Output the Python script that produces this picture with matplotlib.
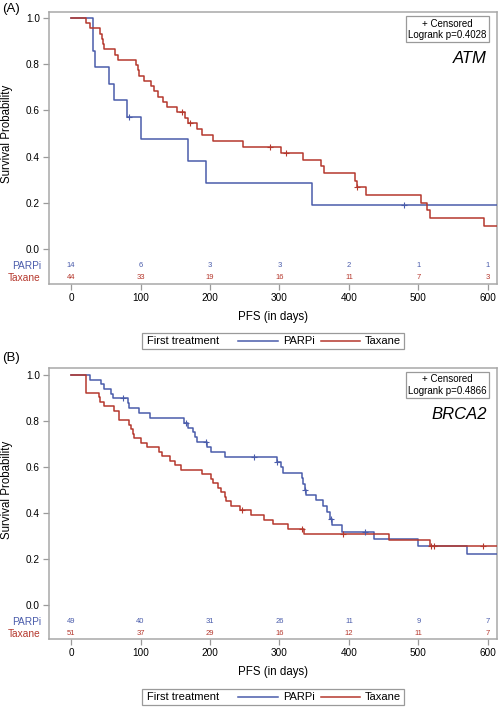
import numpy as np
import matplotlib
matplotlib.use("Agg")
import matplotlib.pyplot as plt
from matplotlib.patches import Rectangle
from matplotlib.lines import Line2D

plt.rcParams['font.family'] = ['Liberation Sans', 'DejaVu Sans']

# ---- data ----
risk_days = [0, 100, 200, 300, 400, 500, 600]

# (A) ATM
atm_parp_t = [0, 31, 32, 35, 54, 62, 81, 101, 168, 194, 347]
atm_parp_s = [1.0, 0.929, 0.857, 0.786, 0.714, 0.643, 0.571, 0.476, 0.381, 0.286, 0.190]
atm_parp_cens = [84, 479]
atm_tax_t = [0, 21, 28, 42, 44, 46, 48, 63, 67, 94, 96, 98, 105, 115, 120, 125, 133, 138,
             153, 164, 168, 181, 188, 204, 247, 302, 334, 360, 364, 409, 411, 424, 503, 512, 516, 595]
atm_tax_s = [1.0, 0.977, 0.955, 0.932, 0.909, 0.886, 0.864, 0.841, 0.818, 0.795, 0.773, 0.750,
             0.727, 0.705, 0.682, 0.659, 0.636, 0.614, 0.591, 0.568, 0.546, 0.518, 0.492, 0.468,
             0.443, 0.414, 0.385, 0.358, 0.328, 0.296, 0.267, 0.232, 0.200, 0.168, 0.135, 0.100]
atm_tax_cens = [159, 171, 286, 309, 412]
atm_risk_parp = [14, 6, 3, 3, 2, 1, 1]
atm_risk_tax = [44, 33, 19, 16, 11, 7, 3]

# (B) BRCA2
brca_parp_t = [0, 27, 43, 48, 57, 60, 82, 83, 98, 113, 162, 168, 175, 178, 181, 195, 201, 222,
               296, 302, 305, 332, 334, 336, 338, 353, 363, 369, 373, 376, 390, 436, 500, 570]
brca_parp_s = [1.0, 0.980, 0.959, 0.939, 0.918, 0.898, 0.877, 0.856, 0.835, 0.814, 0.793, 0.771,
               0.750, 0.729, 0.708, 0.686, 0.664, 0.642, 0.620, 0.599, 0.574, 0.553, 0.527, 0.502,
               0.477, 0.455, 0.429, 0.403, 0.375, 0.346, 0.319, 0.287, 0.255, 0.224]
brca_parp_cens = [75, 166, 194, 263, 296, 336, 374, 423]
brca_tax_t = [0, 21, 40, 42, 48, 62, 69, 84, 86, 89, 91, 100, 110, 126, 131, 143, 150, 158, 188,
              201, 205, 212, 216, 221, 223, 230, 243, 259, 277, 290, 312, 335, 458, 516]
brca_tax_s = [1.0, 0.922, 0.902, 0.882, 0.863, 0.843, 0.804, 0.784, 0.765, 0.745, 0.725, 0.706,
              0.686, 0.667, 0.647, 0.627, 0.608, 0.588, 0.569, 0.549, 0.529, 0.510, 0.490, 0.471,
              0.451, 0.431, 0.412, 0.392, 0.372, 0.351, 0.331, 0.308, 0.281, 0.255]
brca_tax_cens = [246, 333, 392, 518, 522, 593]
brca_risk_parp = [49, 40, 31, 26, 11, 9, 7]
brca_risk_tax = [51, 37, 29, 16, 12, 11, 7]

BLUE = '#4a5cab'
RED = '#b5382d'
GREY = '#9a9a9a'
X_END = 620

fig = plt.figure(figsize=(5.0, 7.07), dpi=100)


def km(ax, t, s, cens, color):
    t = np.asarray(t, float)
    s = np.asarray(s, float)
    tt = np.append(t, X_END)
    ss = np.append(s, s[-1])
    ax.step(tt, ss, where='post', color=color, lw=1.1, zorder=3)
    idx = np.searchsorted(t, cens, side='right') - 1
    ax.plot(cens, s[idx], ls='none', marker='+', ms=5, mew=0.8, color=color, zorder=4)


def panel(rect, ylim, gene, pval, parp, tax, rparp, rtax, ylab_y):
    ax = fig.add_axes(rect)
    km(ax, *parp, BLUE)
    km(ax, *tax, RED)
    ax.set_xlim(-31.7, 613)
    ax.set_ylim(*ylim)
    ax.set_xticks(risk_days)
    ax.set_yticks([0.0, 0.2, 0.4, 0.6, 0.8, 1.0])
    ax.set_yticklabels(['%.1f' % v for v in [0.0, 0.2, 0.4, 0.6, 0.8, 1.0]])
    ax.tick_params(length=4, width=0.9, color=GREY, labelsize=7.2, pad=2.5)
    for sp in ax.spines.values():
        sp.set_color('#a8a8a8')
        sp.set_linewidth(1.1)
    ax.set_xlabel('PFS (in days)', fontsize=8.3, labelpad=6)
    ax.set_ylabel('Survival Probability', fontsize=8.3)
    ax.yaxis.set_label_coords(-0.08, ylab_y)
    for d, a, b in zip(risk_days, rparp, rtax):
        ax.text(d, -0.072, str(a), color=BLUE, fontsize=5.5, ha='center', va='center')
        ax.text(d, -0.125, str(b), color=RED, fontsize=5.5, ha='center', va='center')
    ax.text(-0.018, -0.072, 'PARPi', color=BLUE, fontsize=7.3, ha='right', va='center',
            transform=ax.get_yaxis_transform())
    ax.text(-0.018, -0.125, 'Taxane', color=RED, fontsize=7.3, ha='right', va='center',
            transform=ax.get_yaxis_transform())
    ax.text(0.889, 0.937, '+ Censored\nLogrank p=%s' % pval, transform=ax.transAxes,
            ha='center', va='center', multialignment='center', fontsize=7, linespacing=1.15,
            bbox=dict(boxstyle='square,pad=0.25', fc='white', ec='#9a9a9a', lw=0.9))
    ax.text(0.978, 0.828, gene, transform=ax.transAxes, ha='right', va='center',
            fontsize=12, style='italic')
    return ax


ax1 = panel([0.098, 1 - 284 / 707, 0.896, 272 / 707], (-0.1515, 1.026), 'ATM', '0.4028',
            (atm_parp_t, atm_parp_s, atm_parp_cens), (atm_tax_t, atm_tax_s, atm_tax_cens),
            atm_risk_parp, atm_risk_tax, 0.553)
ax2 = panel([0.098, 1 - 639 / 707, 0.896, 271 / 707], (-0.147, 1.030), 'BRCA2', '0.4866',
            (brca_parp_t, brca_parp_s, brca_parp_cens), (brca_tax_t, brca_tax_s, brca_tax_cens),
            brca_risk_parp, brca_risk_tax, 0.552)

fig.text(2 / 500, 1 - 9 / 707, '(A)', fontsize=9.5, ha='left', va='center')
fig.text(2 / 500, 1 - 358 / 707, '(B)', fontsize=9.5, ha='left', va='center')


def legend(ycen):
    fx = lambda px: px / 500
    fy = lambda py: 1 - py / 707
    fig.add_artist(Rectangle((fx(142), fy(ycen + 8)), fx(404) - fx(142), 16 / 707,
                             transform=fig.transFigure, fc='white', ec='#9a9a9a', lw=0.9))
    fig.text(fx(147), fy(ycen), 'First treatment', fontsize=8, ha='left', va='center')
    fig.add_artist(Line2D([fx(238), fx(278)], [fy(ycen), fy(ycen)], color=BLUE, lw=1.1,
                          transform=fig.transFigure))
    fig.text(fx(283), fy(ycen), 'PARPi', fontsize=8, ha='left', va='center')
    fig.add_artist(Line2D([fx(321), fx(360)], [fy(ycen), fy(ycen)], color=RED, lw=1.1,
                          transform=fig.transFigure))
    fig.text(fx(365), fy(ycen), 'Taxane', fontsize=8, ha='left', va='center')


legend(341)
legend(697)

fig.savefig('out.png', dpi=100)
